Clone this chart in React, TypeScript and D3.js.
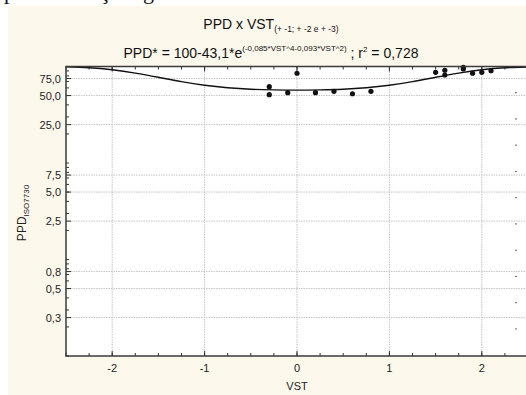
import React from "react";
import * as d3 from "d3";

const pointX = [-0.3, -0.3, -0.1, 0, 0.2, 0.4, 0.6, 0.8, 1.5, 1.6, 1.6, 1.8, 1.8, 1.9, 2.0, 2.1];
const pointY = [61.8, 51.0, 53.5, 85.1, 53.5, 55.3, 52.2, 55.3, 87.1, 91.4, 81.6, 98.1, 94.2, 85.1, 87.1, 90.4];

const curveX = [-2.5, -2.25, -2, -1.75, -1.5, -1.25, -1, -0.75, -0.5, -0.25, 0, 0.25, 0.5, 0.75, 1, 1.25, 1.5, 1.75, 2, 2.25, 2.5];
const curveY = [99.1, 97.0, 92.4, 85.4, 77.3, 69.7, 63.9, 60.2, 58.1, 57.2, 56.9, 57.2, 58.1, 60.2, 63.9, 69.7, 77.3, 85.4, 92.4, 97.0, 99.1];

const xTicks = [-2, -1, 0, 1, 2];
const yTicks = [75, 50, 25, 7.5, 5, 2.5, 0.75, 0.5, 0.25];
const yTickLabels = ["75,0", "50,0", "25,0", "7,5", "5,0", "2,5", "0,8", "0,5", "0,3"];

const W = 526;
const H = 395;
const L = 66, R = 528, T = 66.5, B = 356;

export default function App() {
  const x = d3.scaleLinear().domain([-2.5, 2.5]).range([L, R]);
  const y = d3.scaleLog().domain([0.1, 100]).range([B, T]);
  const line = d3
    .line<number>()
    .x((_, i) => x(curveX[i]))
    .y((d) => y(d))
    .curve(d3.curveNatural);

  const minorX = d3.range(-2.5, 2.51, 0.25);
  const minorY: number[] = [];
  [0.1, 1, 10].forEach((base) => {
    for (let k = 1; k <= 9; k++) minorY.push(base * k);
  });
  const rightTicks = d3.range(0, 10).map((i) => 92.7 + i * 26.25);
  const font = "'Liberation Sans', Arial, sans-serif";

  return (
    <svg
      width={W}
      height={H}
      style={{ position: "fixed", left: 0, top: 0, background: "#ffffff" }}
      fontFamily={font}
    >
      <defs>
        <clipPath id="plotclip">
          <rect x={L} y={T} width={R - L} height={B - T} />
        </clipPath>
      </defs>
      <g fontFamily="'Liberation Serif', 'Times New Roman', serif" fontSize={22} fill="#111">
        <text x={4} y={-1}>p</text>
        <text x={100} y={-1}>ç</text>
        <text x={143} y={-1}>g</text>
      </g>
      <rect x={8} y={6} width={W - 8} height={H - 6} fill="#fdf8ec" />
      <rect x={L} y={T} width={R - L} height={B - T} fill="#ffffff" />

      {/* grid */}
      <g stroke="#c4c4c4" strokeWidth={1} strokeDasharray="1.5,1">
        {xTicks.map((t) => (
          <line key={"gx" + t} x1={x(t)} x2={x(t)} y1={T} y2={B} />
        ))}
        {yTicks.map((t) => (
          <line key={"gy" + t} x1={L} x2={R} y1={y(t)} y2={y(t)} />
        ))}
      </g>

      {/* minor ticks */}
      <g stroke="#333" strokeWidth={1}>
        {minorX.map((t, i) => (
          <g key={"mx" + i}>
            <line x1={x(t)} x2={x(t)} y1={B} y2={B - 3} />
            <line x1={x(t)} x2={x(t)} y1={T} y2={T + 3} />
          </g>
        ))}
        {xTicks.map((t) => (
          <g key={"Mx" + t}>
            <line x1={x(t)} x2={x(t)} y1={B} y2={B - 5} />
            <line x1={x(t)} x2={x(t)} y1={T} y2={T + 5} />
          </g>
        ))}
        {minorY.map((t, i) => (
          <line key={"my" + i} x1={L} x2={L + 3} y1={y(t)} y2={y(t)} />
        ))}
        {yTicks.map((t) => (
          <line key={"My" + t} x1={L} x2={L + 5} y1={y(t)} y2={y(t)} />
        ))}
        {rightTicks.map((t, i) => (
          <line key={"rt" + i} x1={515} x2={517} y1={t} y2={t} stroke="#666" />
        ))}
      </g>

      {/* curve */}
      <path
        d={line(curveY) || ""}
        fill="none"
        stroke="#111"
        strokeWidth={1.4}
        clipPath="url(#plotclip)"
      />

      {/* points */}
      <g fill="#111">
        {pointX.map((px, i) => (
          <circle key={"p" + i} cx={x(px)} cy={y(pointY[i])} r={2.6} />
        ))}
      </g>

      {/* frame */}
      <rect x={L} y={T} width={R - L} height={B - T} fill="none" stroke="#3a3a3a" strokeWidth={1.5} />

      {/* x tick labels */}
      <g fontSize={11} fill="#222" textAnchor="middle">
        {xTicks.map((t) => (
          <text key={"xl" + t} x={x(t)} y={372}>
            {t}
          </text>
        ))}
      </g>
      {/* y tick labels */}
      <g fontSize={11} fill="#222" textAnchor="end">
        {yTicks.map((t, i) => (
          <text key={"yl" + t} x={61} y={y(t) + 4}>
            {yTickLabels[i]}
          </text>
        ))}
      </g>

      {/* axis titles */}
      <text x={297} y={390} fontSize={11} fill="#222" textAnchor="middle">
        VST
      </text>
      <text transform="translate(26,213) rotate(-90)" fontSize={12} fill="#222" textAnchor="middle">
        PPD
        <tspan fontSize={8} dy={3}>ISO7730</tspan>
      </text>

      {/* titles */}
      <text x={271} y={29} fontSize={14} fill="#111" textAnchor="middle">
        PPD x VST
        <tspan fontSize={8.5} dy={3}>(+ -1; + -2 e + -3)</tspan>
      </text>
      <text x={271} y={57.5} fontSize={14} fill="#111" textAnchor="middle">
        PPD* = 100-43,1*e
        <tspan fontSize={8} dy={-7}>(-0,085*VST^4-0,093*VST^2)</tspan>
        <tspan dy={7}> ; r</tspan>
        <tspan fontSize={8} dy={-6}>2</tspan>
        <tspan dy={6}> = 0,728</tspan>
      </text>
    </svg>
  );
}
